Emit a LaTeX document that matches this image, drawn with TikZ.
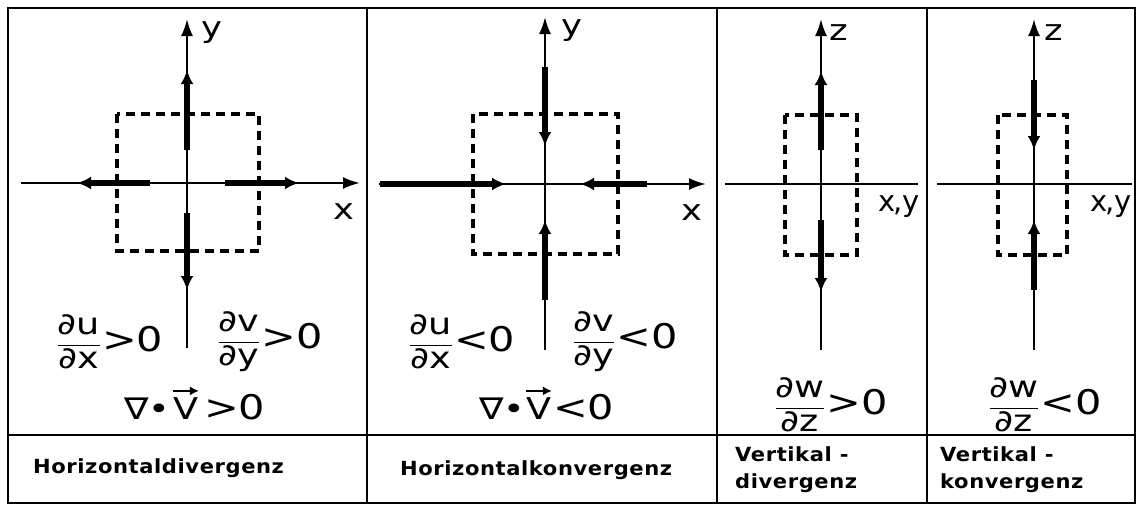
\documentclass[tikz,border=0pt]{standalone}
\usepackage{fontspec}
\setmainfont{DejaVu Sans}
\newfontfamily\wfont[FakeStretch=1.22]{DejaVu Sans}
\newfontfamily\lblfont[LetterSpace=3,FakeStretch=1.08]{DejaVu Sans}
\usetikzlibrary{arrows.meta}
\newcommand\dfr[2]{$\displaystyle\frac{\hbox{#1}}{\hbox{#2}}$}
\newcommand\relsym[1]{{\fontsize{34}{38}\selectfont\kern1pt#1}}
\tikzset{
  axis/.style={line width=2.2pt, -{Latex[length=17pt,width=12pt]}},
  plainax/.style={line width=2.2pt},
  flow/.style={line width=5.2pt, -{Latex[length=14pt,width=13pt]}},
  vecarrow/.style={line width=2.6pt, -{Latex[length=9pt,width=9pt]}},
  dbox/.style={line width=3.4pt, dash pattern=on 9pt off 6pt},
  frame/.style={line width=2.8pt},
  axlabel/.style={font=\wfont\fontsize{29}{32}\selectfont, inner sep=0pt},
  xylabel/.style={font=\fontsize{29}{32}\selectfont, inner sep=0pt},
  formula/.style={font=\wfont\fontsize{30}{34}\selectfont, inner sep=0pt},
  caption/.style={font=\lblfont\bfseries\fontsize{19.5}{27}\selectfont, inner sep=0pt, anchor=west, align=left},
}
\begin{document}
\begin{tikzpicture}[x=1pt,y=-1pt]
\useasboundingbox (0,0) rectangle (1138,506);
% ---------- frame ----------
\coordinate (F1) at (8,8); \coordinate (F2) at (1135,503);
\draw[frame] (F1) rectangle (F2);
\coordinate (HL) at (8,435); \coordinate (HR) at (1135,435);
\draw[frame] (HL) -- (HR);
\coordinate (D1t) at (367,8); \coordinate (D1b) at (367,503);
\coordinate (D2t) at (717,8); \coordinate (D2b) at (717,503);
\coordinate (D3t) at (927,8); \coordinate (D3b) at (927,503);
\draw[frame] (D1t) -- (D1b);
\draw[frame] (D2t) -- (D2b);
\draw[frame] (D3t) -- (D3b);
% ---------- panel 1 ----------
\coordinate (b1a) at (117,114); \coordinate (b1b) at (259,251);
\draw[dbox] (b1a) rectangle (b1b);
\coordinate (a1b) at (187,348); \coordinate (a1t) at (187,19);
\draw[axis] (a1b) -- (a1t);
\coordinate (x1l) at (21,183); \coordinate (x1r) at (360,183);
\draw[axis] (x1l) -- (x1r);
\coordinate (f1us) at (187,150); \coordinate (f1ue) at (187,70);
\coordinate (f1ds) at (187,213); \coordinate (f1de) at (187,290);
\coordinate (f1ls) at (150,183); \coordinate (f1le) at (77,183);
\coordinate (f1rs) at (225,183); \coordinate (f1re) at (299,183);
\draw[flow] (f1us) -- (f1ue);
\draw[flow] (f1ds) -- (f1de);
\draw[flow] (f1ls) -- (f1le);
\draw[flow] (f1rs) -- (f1re);
\node[axlabel] (ly1) at (212,33) {y};
\node[axlabel] (lx1) at (344,212) {x};
\node[formula] (e1a) at (110,342) {\dfr{∂u}{∂x}\relsym{>0}};
\node[formula] (e1b) at (270,342) {\dfr{∂v}{∂y}\relsym{>0}};
\node[formula, anchor=base west] (n1) at (124,419) {∇•};
\node[formula, anchor=base west] (v1) at ([xshift=3pt]n1.base east) {V};
\node[formula, anchor=base west] (r1) at ([xshift=4pt]v1.base east) {\relsym{>0}};
\draw[vecarrow] ([yshift=6pt]v1.north west) -- ([yshift=6pt]v1.north east);
\node[caption] (c1) at (33,468) {Horizontaldivergenz};
% ---------- panel 2 ----------
\coordinate (b2a) at (473,114); \coordinate (b2b) at (618,254);
\draw[dbox] (b2a) rectangle (b2b);
\coordinate (a2b) at (545,350); \coordinate (a2t) at (545,17);
\draw[axis] (a2b) -- (a2t);
\coordinate (x2l) at (379,184); \coordinate (x2r) at (706,184);
\draw[axis] (x2l) -- (x2r);
\coordinate (f2ls) at (380,184); \coordinate (f2le) at (506,184);
\coordinate (f2rs) at (647,184); \coordinate (f2re) at (580,184);
\coordinate (f2us) at (545,67); \coordinate (f2ue) at (545,146);
\coordinate (f2ds) at (545,300); \coordinate (f2de) at (545,220);
\draw[flow] (f2ls) -- (f2le);
\draw[flow] (f2rs) -- (f2re);
\draw[flow] (f2us) -- (f2ue);
\draw[flow] (f2ds) -- (f2de);
\node[axlabel] (ly2) at (572,31) {y};
\node[axlabel] (lx2) at (692,213) {x};
\node[formula] (e2a) at (462,342) {\dfr{∂u}{∂x}\relsym{<0}};
\node[formula] (e2b) at (625,342) {\dfr{∂v}{∂y}\relsym{<0}};
\node[formula, anchor=base west] (n2) at (479,419) {∇•};
\node[formula, anchor=base west] (v2) at ([xshift=1pt]n2.base east) {V};
\node[formula, anchor=base west] (r2) at ([xshift=0pt]v2.base east) {\relsym{<0}};
\draw[vecarrow] ([yshift=6pt]v2.north west) -- ([yshift=6pt]v2.north east);
\node[caption] (c2) at (400,470) {Horizontalkonvergenz};
% ---------- panel 3 ----------
\coordinate (b3a) at (785,115); \coordinate (b3b) at (857,255);
\draw[dbox] (b3a) rectangle (b3b);
\coordinate (a3b) at (821,350); \coordinate (a3t) at (821,19);
\draw[axis] (a3b) -- (a3t);
\coordinate (x3l) at (725,184); \coordinate (x3r) at (918,184);
\draw[plainax] (x3l) -- (x3r);
\coordinate (f3us) at (821,150); \coordinate (f3ue) at (821,71);
\coordinate (f3ds) at (821,220); \coordinate (f3de) at (821,292);
\draw[flow] (f3us) -- (f3ue);
\draw[flow] (f3ds) -- (f3de);
\node[axlabel] (lz3) at (839,33) {z};
\node[xylabel] (lxy3) at (899,207) {x\kern-2pt,\kern-1pt y};
\node[formula] (e3a) at (831,405) {\dfr{∂w}{∂z}\relsym{>0}};
\node[caption] (c3) at (735,470) {Vertikal -\\divergenz};
% ---------- panel 4 ----------
\coordinate (b4a) at (998,115); \coordinate (b4b) at (1067,255);
\draw[dbox] (b4a) rectangle (b4b);
\coordinate (a4b) at (1034,350); \coordinate (a4t) at (1034,19);
\draw[axis] (a4b) -- (a4t);
\coordinate (x4l) at (937,184); \coordinate (x4r) at (1132,184);
\draw[plainax] (x4l) -- (x4r);
\coordinate (f4us) at (1034,80); \coordinate (f4ue) at (1034,150);
\coordinate (f4ds) at (1034,290); \coordinate (f4de) at (1034,220);
\draw[flow] (f4us) -- (f4ue);
\draw[flow] (f4ds) -- (f4de);
\node[axlabel] (lz4) at (1054,33) {z};
\node[xylabel] (lxy4) at (1111,207) {x\kern-2pt,\kern-1pt y};
\node[formula] (e4a) at (1045,405) {\dfr{∂w}{∂z}\relsym{<0}};
\node[caption] (c4) at (940,470) {Vertikal -\\konvergenz};
\end{tikzpicture}
\end{document}
